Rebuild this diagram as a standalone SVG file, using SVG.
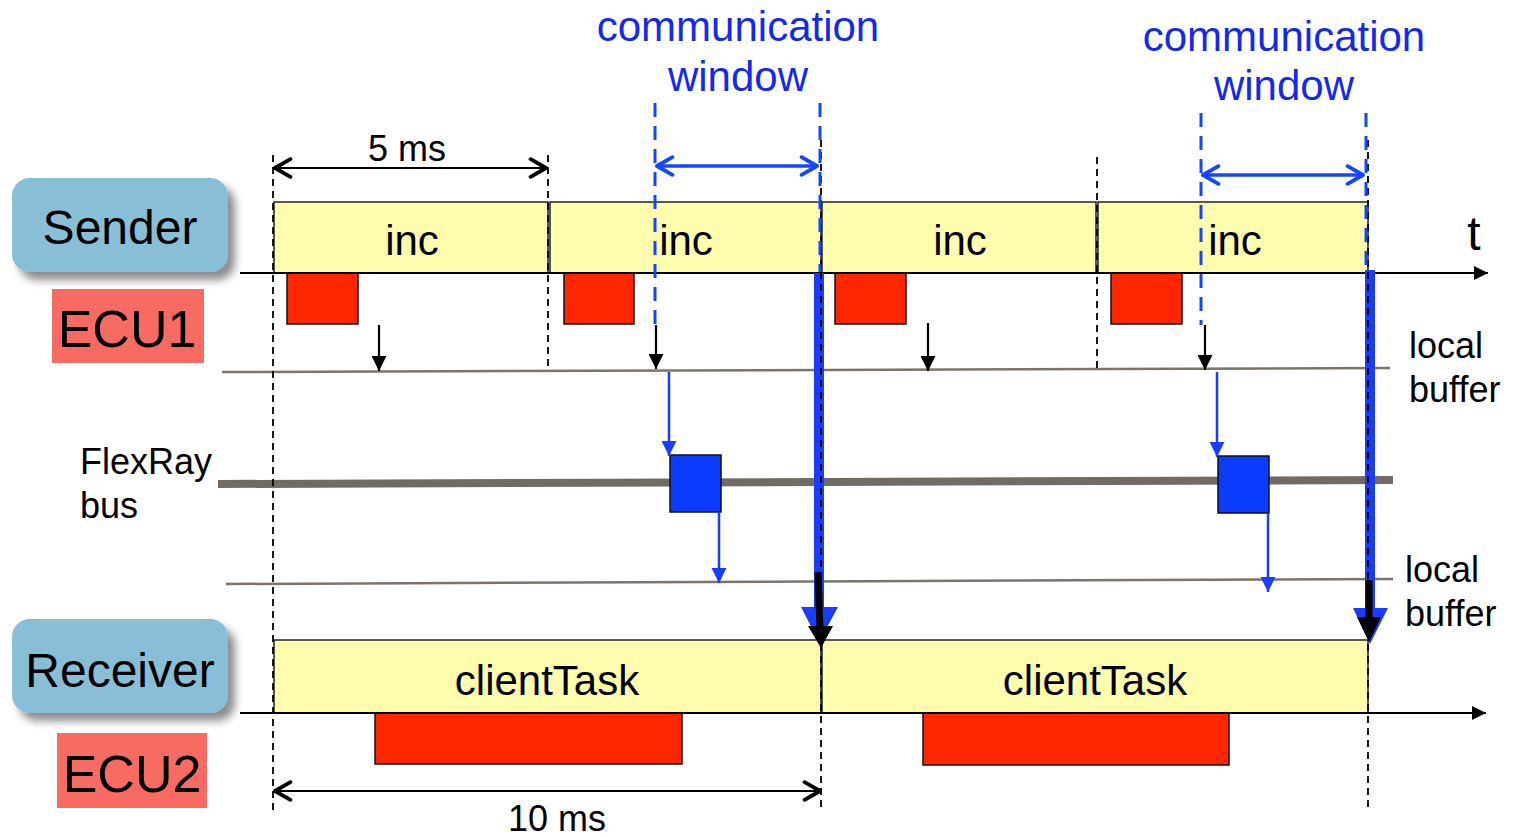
<svg xmlns="http://www.w3.org/2000/svg" width="1515" height="837" viewBox="0 0 1515 837">
<defs>
<style>
text{font-family:"Liberation Sans",Arial,sans-serif;fill:#000}
.lbl{font-size:48px;text-anchor:middle}
.ecu{font-size:52px;text-anchor:middle}
.inc{fill:#FFFCAD;stroke:#222;stroke-width:1.5}
.red{fill:#FF2600;stroke:#111;stroke-width:1.5}
.task{font-size:42px;text-anchor:middle}
.small{font-size:36px}
.comm{font-size:42px;text-anchor:middle;fill:#1428F0}
.dash{stroke:#000;stroke-width:1.8;stroke-dasharray:7 5;fill:none}
.bdash{stroke:#1446FF;stroke-width:3;stroke-dasharray:14 9;fill:none}
.buf{stroke:#7A746C;stroke-width:2.5}
.blk{stroke:#000;stroke-width:2.2}
.blu{stroke:#1A3CFF;stroke-width:2.5}
</style>
<filter id="sh" x="-20%" y="-20%" width="150%" height="160%">
<feDropShadow dx="7" dy="8" stdDeviation="4" flood-color="#000" flood-opacity="0.45"/>
</filter>
<marker id="ta" viewBox="0 0 10 10" refX="10" refY="5" markerWidth="16" markerHeight="14" markerUnits="userSpaceOnUse" orient="auto"><path d="M0,0 L10,5 L0,10 z" fill="#000"/></marker>
<marker id="ba" viewBox="0 0 10 10" refX="10" refY="5" markerWidth="17" markerHeight="15" markerUnits="userSpaceOnUse" orient="auto"><path d="M0,0 L10,5 L0,10 z" fill="#000"/></marker>
<marker id="bl" viewBox="0 0 10 10" refX="10" refY="5" markerWidth="15" markerHeight="16" markerUnits="userSpaceOnUse" orient="auto"><path d="M0,0 L10,5 L0,10 z" fill="#1A3CFF"/></marker>
<marker id="ch" viewBox="0 0 20 20" refX="18" refY="10" markerWidth="22" markerHeight="22" markerUnits="userSpaceOnUse" orient="auto-start-reverse"><path d="M4,2 L18,10 L4,18" fill="none" stroke="#000" stroke-width="3.5" stroke-linecap="round" stroke-linejoin="round"/></marker>
<marker id="chb" viewBox="0 0 20 20" refX="18" refY="10" markerWidth="22" markerHeight="22" markerUnits="userSpaceOnUse" orient="auto-start-reverse"><path d="M4,2 L18,10 L4,18" fill="none" stroke="#1446FF" stroke-width="3.5" stroke-linecap="round" stroke-linejoin="round"/></marker>
</defs>
<rect width="1515" height="837" fill="#fff"/>

<g id="sender"><rect x="12" y="178" width="216" height="94" rx="18" fill="#89BFD6" filter="url(#sh)"/><text class="lbl" x="120" y="244">Sender</text></g>
<g id="ecu1"><rect x="52" y="289" width="152" height="74" fill="#F76B62"/><text class="ecu" x="127" y="347">ECU1</text></g>
<g id="receiver"><rect x="12" y="619" width="216" height="94" rx="18" fill="#89BFD6" filter="url(#sh)"/><text class="lbl" x="120" y="687">Receiver</text></g>
<g id="ecu2"><rect x="57" y="733" width="150" height="75" fill="#F76B62"/><text class="ecu" x="132" y="792">ECU2</text></g>
<g id="comm-labels">
<text class="comm" x="738" y="41">communication</text><text class="comm" x="738" y="91">window</text>
<text class="comm" x="1284" y="51">communication</text><text class="comm" x="1284" y="100">window</text>
</g>
<g id="side-labels">
<text class="small" x="80" y="474">FlexRay</text><text class="small" x="80" y="518">bus</text>
<text class="small" x="1409" y="358">local</text><text class="small" x="1409" y="402">buffer</text>
<text class="small" x="1405" y="582">local</text><text class="small" x="1405" y="626">buffer</text>
<text x="1474" y="250" style="font-size:48px;text-anchor:middle">t</text>
</g>

<g id="buses">
<line class="buf" x1="222" y1="372" x2="1390" y2="368"/>
<line class="buf" x1="226" y1="584" x2="1393" y2="579"/>
<line x1="218" y1="484" x2="1393" y2="480" stroke="#716B63" stroke-width="8"/>
</g>

<g id="inc-tasks">
<rect class="inc" x="274" y="202" width="274" height="71"/>
<rect class="inc" x="550" y="202" width="271" height="71"/>
<rect class="inc" x="822" y="202" width="274" height="71"/>
<rect class="inc" x="1098" y="202" width="270" height="71"/>
<text class="task" x="412" y="255">inc</text>
<text class="task" x="686" y="255">inc</text>
<text class="task" x="960" y="255">inc</text>
<text class="task" x="1235" y="255">inc</text>
<rect class="red" x="287" y="273" width="71" height="51"/>
<rect class="red" x="564" y="273" width="70" height="51"/>
<rect class="red" x="835" y="273" width="71" height="51"/>
<rect class="red" x="1111" y="273" width="71" height="51"/>
</g>

<g id="client-tasks">
<rect class="inc" x="274" y="640" width="547" height="73"/>
<rect class="inc" x="822" y="640" width="546" height="73"/>
<text class="task" x="547" y="695">clientTask</text>
<text class="task" x="1095" y="695">clientTask</text>
<rect class="red" x="375" y="713" width="307" height="51"/>
<rect class="red" x="923" y="713" width="306" height="52"/>
</g>

<g id="messages">
<rect x="670" y="455" width="51" height="57" fill="#0A3CFF" stroke="#111" stroke-width="1.5"/>
<rect x="1218" y="456" width="51" height="57" fill="#0A3CFF" stroke="#111" stroke-width="1.5"/>
</g>

<g id="connectors">
<line x1="240" y1="273" x2="1488" y2="273" stroke="#000" stroke-width="2" marker-end="url(#ta)"/>
<line x1="240" y1="713" x2="1486" y2="713" stroke="#000" stroke-width="2" marker-end="url(#ta)"/>
<line x1="819" y1="273" x2="819" y2="612" stroke="#1A3CFF" stroke-width="10"/>
<polygon points="801,607 838,607 819,642" fill="#1A3CFF"/>
<line x1="1370" y1="270" x2="1370" y2="612" stroke="#1A3CFF" stroke-width="10"/>
<polygon points="1353,608 1388,608 1370,644" fill="#1A3CFF"/>
<line class="dash" x1="273" y1="155" x2="273" y2="810"/>
<line class="dash" x1="548" y1="155" x2="548" y2="370"/>
<line class="dash" x1="821" y1="140" x2="821" y2="810"/>
<line class="dash" x1="1097" y1="157" x2="1097" y2="370"/>
<line class="dash" x1="1368" y1="140" x2="1368" y2="810"/>
<line class="bdash" x1="655" y1="103" x2="655" y2="325"/>
<line class="bdash" x1="820" y1="103" x2="820" y2="272"/>
<line class="bdash" x1="1201" y1="113" x2="1201" y2="325"/>
<line class="bdash" x1="1366" y1="113" x2="1366" y2="272"/>
<line x1="818" y1="572" x2="820" y2="630" stroke="#000" stroke-width="7"/>
<polygon points="808,626 833,626 821,648" fill="#000"/>
<line x1="1369" y1="580" x2="1369" y2="620" stroke="#000" stroke-width="7"/>
<polygon points="1357,617 1381,617 1369,642" fill="#000"/>
<line x1="275" y1="168" x2="546" y2="168" stroke="#000" stroke-width="2" marker-start="url(#ch)" marker-end="url(#ch)"/>
<line x1="275" y1="791" x2="820" y2="791" stroke="#000" stroke-width="2" marker-start="url(#ch)" marker-end="url(#ch)"/>
<line x1="657" y1="166" x2="817" y2="166" stroke="#1446FF" stroke-width="3.5" marker-start="url(#chb)" marker-end="url(#chb)"/>
<line x1="1203" y1="175" x2="1363" y2="175" stroke="#1446FF" stroke-width="3.5" marker-start="url(#chb)" marker-end="url(#chb)"/>
<line class="blk" x1="379" y1="325" x2="379" y2="371" marker-end="url(#ba)"/>
<line class="blk" x1="656" y1="325" x2="656" y2="369" marker-end="url(#ba)"/>
<line class="blk" x1="928" y1="323" x2="928" y2="371" marker-end="url(#ba)"/>
<line class="blk" x1="1205" y1="325" x2="1205" y2="370" marker-end="url(#ba)"/>
<line class="blu" x1="669" y1="372" x2="669" y2="456" marker-end="url(#bl)"/>
<line class="blu" x1="719" y1="512" x2="719" y2="583" marker-end="url(#bl)"/>
<line class="blu" x1="1217" y1="372" x2="1217" y2="457" marker-end="url(#bl)"/>
<line class="blu" x1="1268" y1="513" x2="1268" y2="592" marker-end="url(#bl)"/>
</g>

<g id="dim-labels">
<text x="407" y="161" style="font-size:36px;text-anchor:middle">5 ms</text>
<text x="557" y="831" style="font-size:36px;text-anchor:middle">10 ms</text>
</g>
</svg>
